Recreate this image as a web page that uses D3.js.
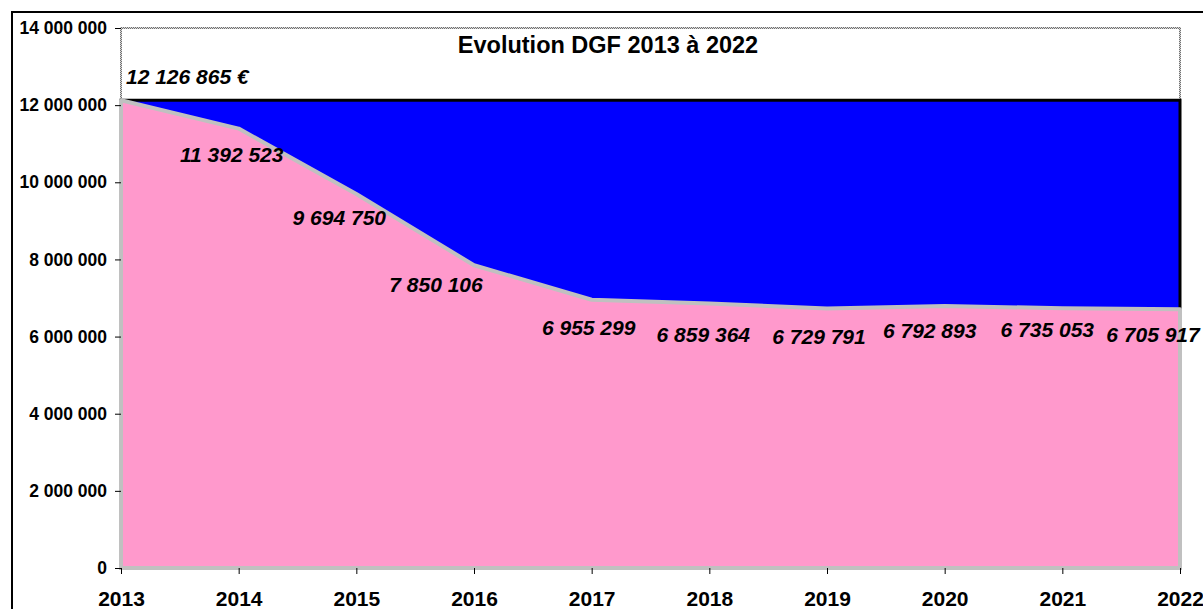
<!DOCTYPE html>
<html>
<head>
<meta charset="utf-8">
<script src="https://cdn.jsdelivr.net/npm/d3@7/dist/d3.min.js"></script>
<style>
  html, body { margin: 0; padding: 0; background: #fff; }
  svg { display: block; font-family: "Liberation Sans", Arial, sans-serif; }
</style>
</head>
<body>
<svg id="chart" width="1203" height="609"></svg>
<script>
// Dotation Globale de Fonctionnement, 2013 to 2022
const years = [2013, 2014, 2015, 2016, 2017, 2018, 2019, 2020, 2021, 2022];
const dgf = [12126865, 11392523, 9694750, 7850106, 6955299, 6859364, 6729791, 6792893, 6735053, 6705917];
// 2013 level carried across all years
const reference = [12126865, 12126865, 12126865, 12126865, 12126865, 12126865, 12126865, 12126865, 12126865, 12126865];
const yTicks = [0, 2000000, 4000000, 6000000, 8000000, 10000000, 12000000, 14000000];
const title = "Evolution DGF 2013 à 2022";

// label placement relative to each point (centre x, baseline y)
const labelDx = [0, -7, -17, -38, -3, -6, -8, -15, -15, -27];
const labelDy = [0, 33, 31, 27, 35, 39, 36, 32, 29, 33];

const fr = d3.formatLocale({ decimal: ",", thousands: " ", grouping: [3], currency: ["", " €"] });
const fmt = fr.format(",");

const svg = d3.select("#chart");
const plotLeft = 121, plotRight = 1180, plotTop = 28, plotBottom = 568;

const x = d3.scaleLinear().domain([years[0], years[years.length - 1]]).range([plotLeft, plotRight]);
const y = d3.scaleLinear().domain([0, 14000000]).range([plotBottom, plotTop]);

// outer chart frame
svg.append("rect")
  .attr("x", 12).attr("y", 12).attr("width", 1300).attr("height", 700)
  .attr("fill", "none").attr("stroke", "#000").attr("stroke-width", 2);

// hatched plot-area border
const defs = svg.append("defs");
const pat = defs.append("pattern").attr("id", "hatch")
  .attr("width", 2).attr("height", 2).attr("patternUnits", "userSpaceOnUse");
pat.append("rect").attr("width", 2).attr("height", 2).attr("fill", "#d8d8d8");
pat.append("rect").attr("width", 1).attr("height", 1).attr("fill", "#707070");
pat.append("rect").attr("x", 1).attr("y", 1).attr("width", 1).attr("height", 1).attr("fill", "#707070");

svg.append("rect")
  .attr("x", plotLeft).attr("y", plotTop).attr("width", plotRight - plotLeft).attr("height", plotBottom - plotTop)
  .attr("fill", "none").attr("stroke", "url(#hatch)").attr("stroke-width", 2);

// area generator shared by both series
const area = d3.area()
  .x((d, i) => x(years[i]))
  .y0(y(0))
  .y1(d => y(d));

// reference area (blue, black border)
svg.append("path")
  .datum(reference)
  .attr("d", area)
  .attr("fill", "#0000ff")
  .attr("stroke", "#000")
  .attr("stroke-width", 3)
  .attr("stroke-linejoin", "miter");

// DGF area (pink, grey border)
svg.append("path")
  .datum(dgf)
  .attr("d", area)
  .attr("fill", "#ff99cc")
  .attr("stroke", "#c0c0c0")
  .attr("stroke-width", 4)
  .attr("stroke-linejoin", "round");

// Y axis
const yAxis = d3.axisLeft(y).tickValues(yTicks).tickSize(6).tickPadding(8).tickFormat(fmt);
const gy = svg.append("g").attr("transform", `translate(${plotLeft},0)`).call(yAxis);
gy.select(".domain").remove();
gy.selectAll(".tick line").attr("stroke", "#000");
gy.selectAll(".tick text")
  .attr("font-family", "Liberation Sans, Arial, sans-serif")
  .attr("font-size", 17.5).attr("font-weight", "bold").attr("fill", "#000");

// X axis
const xAxis = d3.axisBottom(x).tickValues(years).tickSize(6).tickPadding(17).tickFormat(d3.format("d"));
const gx = svg.append("g").attr("transform", `translate(0,${plotBottom})`).call(xAxis);
gx.select(".domain").remove();
gx.selectAll(".tick line").attr("stroke", "#000");
gx.selectAll(".tick text")
  .attr("font-family", "Liberation Sans, Arial, sans-serif")
  .attr("font-size", 21).attr("font-weight", "bold").attr("fill", "#000");

// title
svg.append("text")
  .attr("x", 608).attr("y", 53)
  .attr("text-anchor", "middle")
  .attr("font-size", 23.5).attr("font-weight", "bold")
  .text(title);

// value labels
const labelStyle = sel => sel
  .attr("font-size", 21).attr("font-weight", "bold").attr("font-style", "italic").attr("fill", "#000");

svg.append("text")
  .attr("x", x(years[0]) + 5).attr("y", y(reference[0]) - 16)
  .call(labelStyle)
  .text(fmt(reference[0]) + " €");

svg.append("g").selectAll("text")
  .data(dgf.slice(1))
  .join("text")
  .attr("x", (d, i) => x(years[i + 1]) + labelDx[i + 1])
  .attr("y", (d, i) => y(d) + labelDy[i + 1])
  .attr("text-anchor", "middle")
  .call(labelStyle)
  .text(d => fmt(d));
</script>
</body>
</html>
